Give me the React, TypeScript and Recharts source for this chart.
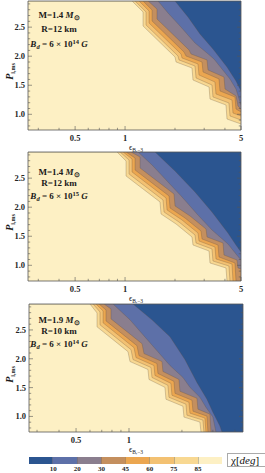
import React from 'react';
import { ComposedChart, Area, XAxis, YAxis, CartesianGrid } from 'recharts';

const SERIF = "'Liberation Serif', 'Times New Roman', serif";

// contour levels and band colours (0-10, 10-20, ... 85-90)
const LEVELS = [10, 20, 30, 45, 60, 75, 85];
const BAND_COLORS = ['#2b5590', '#5d70a8', '#8a7e8e', '#c48f5e', '#eba650', '#f3c172', '#f8d892', '#fdf0c4'];

const X_MAJOR_AB = [0.5, 1, 5];
const X_MAJOR_C = [0.5, 1];
const X_MINOR = [0.3, 0.4, 0.6, 0.7, 0.8, 0.9, 2, 3, 4];
const Y_MAJOR = [1.0, 1.5, 2.0, 2.5];
const Y_MINOR = [0.8, 0.9, 1.1, 1.2, 1.3, 1.4, 1.6, 1.7, 1.8, 1.9, 2.1, 2.2, 2.3, 2.4, 2.6, 2.7, 2.8, 2.9];
const Y_DOMAIN: [number, number] = [0.73, 2.95];

// panel A: M=1.4, R=12 km, Bd=6e14 G  -- boundary of each level [eps, P]
const A10 = [[0.26, 2.95], [2.001, 2.95], [2.396, 2.675], [2.83, 2.382], [3.389, 2.124], [4.116, 1.814], [4.664, 1.573], [5, 1.401]];
const A20 = [[0.26, 2.95], [1.58, 2.95], [1.816, 2.743], [2.145, 2.52], [2.64, 2.227], [3.119, 2.055], [3.436, 1.952], [3.84, 1.78], [4.291, 1.608], [4.664, 1.436], [5, 1.16]];
const A30 = [[0.26, 2.95], [1.376, 2.95], [1.558, 2.812], [1.558, 2.64], [2.43, 2.107], [2.498, 2.038], [3.119, 1.935], [3.162, 1.763], [3.948, 1.642], [4.004, 1.436], [4.664, 1.315], [4.794, 1.143], [5, 1.091]];
const A45 = [[0.26, 2.95], [1.284, 2.95], [1.455, 2.795], [1.455, 2.606], [2.267, 2.072], [2.331, 2.003], [2.91, 1.9], [2.951, 1.728], [3.684, 1.608], [3.736, 1.401], [4.598, 1.298], [4.664, 1.091], [5, 1.04]];
const A60 = [[0.26, 2.95], [1.214, 2.95], [1.395, 2.778], [1.395, 2.571], [2.175, 2.038], [2.205, 1.969], [2.753, 1.866], [2.791, 1.676], [3.484, 1.556], [3.533, 1.349], [4.412, 1.246], [4.473, 1.022], [5, 0.971]];
const A75 = [[0.26, 2.95], [1.149, 2.95], [1.338, 2.761], [1.338, 2.537], [2.086, 2.003], [2.115, 1.935], [2.64, 1.831], [2.679, 1.625], [3.342, 1.504], [3.389, 1.298], [4.23, 1.195], [4.291, 0.971], [5, 0.902]];
const A85 = [[0.26, 2.95], [1.102, 2.95], [1.284, 2.761], [1.284, 2.52], [2.001, 1.986], [2.03, 1.9], [2.533, 1.797], [2.568, 1.59], [3.21, 1.47], [3.251, 1.263], [4.06, 1.16], [4.116, 0.919], [5, 0.833]];

// panel B: M=1.4, R=12 km, Bd=6e15 G
const B10 = [[0.26, 2.95], [1.516, 2.95], [2.001, 2.623], [2.64, 2.262], [3.342, 1.917], [4.173, 1.556], [4.664, 1.349], [5, 1.229]];
const B20 = [[0.26, 2.95], [1.198, 2.95], [1.455, 2.726], [1.791, 2.451], [2.205, 2.176], [2.715, 1.883], [3.342, 1.608], [4.173, 1.367], [4.664, 1.195], [5, 1.091]];
const B30 = [[0.26, 2.95], [1.087, 2.95], [1.231, 2.864], [1.231, 2.675], [1.973, 2.227], [2.001, 2.021], [2.464, 1.849], [3.076, 1.625], [3.119, 1.487], [3.894, 1.384], [3.948, 1.177], [4.728, 1.091], [4.794, 0.954], [5, 0.937]];
const B45 = [[0.26, 2.95], [1.014, 2.95], [1.149, 2.847], [1.149, 2.64], [1.842, 2.193], [1.867, 1.986], [2.298, 1.814], [2.87, 1.59], [2.91, 1.453], [3.633, 1.349], [3.684, 1.143], [4.598, 1.04], [4.664, 0.73]];
const B60 = [[0.26, 2.95], [0.973, 2.95], [1.102, 2.83], [1.102, 2.606], [1.767, 2.158], [1.791, 1.952], [2.205, 1.78], [2.753, 1.556], [2.791, 1.418], [3.484, 1.315], [3.533, 1.109], [4.412, 1.022], [4.473, 0.73]];
const B75 = [[0.26, 2.95], [0.933, 2.95], [1.057, 2.812], [1.057, 2.571], [1.694, 2.124], [1.718, 1.917], [2.115, 1.745], [2.64, 1.522], [2.678, 1.384], [3.342, 1.281], [3.389, 1.074], [4.23, 0.988], [4.291, 0.73]];
const B85 = [[0.26, 2.95], [0.895, 2.95], [1.014, 2.795], [1.014, 2.537], [1.625, 2.09], [1.648, 1.883], [2.03, 1.711], [2.533, 1.487], [2.568, 1.349], [3.21, 1.246], [3.251, 1.04], [4.06, 0.954], [4.116, 0.73]];

// panel C: M=1.9, R=10 km, Bd=6e14 G
const C10 = [[0.27, 2.95], [1.054, 2.95], [1.351, 2.675], [1.71, 2.382], [2.08, 1.986], [2.434, 1.59], [2.775, 1.298], [3.001, 1.074], [3.289, 0.833], [3.377, 0.73]];
const C20 = [[0.27, 2.95], [0.811, 2.95], [1.013, 2.675], [1.316, 2.279], [1.71, 1.883], [2.027, 1.676], [2.222, 1.504], [2.532, 1.332], [2.738, 1.16], [3.001, 0.988], [3.121, 0.73]];
const C30 = [[0.27, 2.95], [0.721, 2.95], [0.79, 2.864], [0.79, 2.692], [1.186, 2.262], [1.217, 2.09], [1.54, 1.952], [1.56, 1.78], [1.923, 1.642], [1.949, 1.436], [2.434, 1.315], [2.466, 1.126], [2.886, 1.04], [2.924, 0.73]];
const C45 = [[0.27, 2.95], [0.675, 2.95], [0.74, 2.847], [0.74, 2.657], [1.11, 2.227], [1.14, 2.055], [1.442, 1.917], [1.461, 1.745], [1.802, 1.608], [1.826, 1.401], [2.28, 1.281], [2.311, 1.091], [2.775, 1.005], [2.811, 0.73]];
const C60 = [[0.27, 2.95], [0.649, 2.95], [0.712, 2.83], [0.712, 2.623], [1.068, 2.193], [1.096, 2.021], [1.387, 1.883], [1.405, 1.711], [1.732, 1.573], [1.755, 1.367], [2.192, 1.246], [2.222, 1.057], [2.703, 0.971], [2.738, 0.73]];
const C75 = [[0.27, 2.95], [0.6245, 2.95], [0.684, 2.812], [0.684, 2.589], [1.027, 2.158], [1.054, 1.986], [1.334, 1.849], [1.351, 1.676], [1.665, 1.539], [1.688, 1.332], [2.108, 1.212], [2.135, 1.022], [2.633, 0.936], [2.668, 0.73]];
const C85 = [[0.27, 2.95], [0.6, 2.95], [0.658, 2.795], [0.658, 2.554], [0.987, 2.124], [1.013, 1.952], [1.282, 1.814], [1.299, 1.642], [1.601, 1.504], [1.623, 1.298], [2.027, 1.177], [2.054, 0.988], [2.532, 0.902], [2.566, 0.73]];

const toRows = (pts: number[][]) => pts.map(([x, y]) => ({ x, y }));

const LINE = '#555';
const TXT = '#262626';

const makeTick = (side: 'b' | 't' | 'l' | 'r', majors: number[]) => (props: any) => {
  const { x, y, payload } = props;
  const v = payload.value;
  const major = majors.includes(v);
  const len = major ? 4 : 2.2;
  let line;
  if (side === 'b') line = <line x1={x} x2={x} y1={y} y2={y - len} stroke={LINE} strokeWidth={0.6} />;
  else if (side === 't') line = <line x1={x} x2={x} y1={y} y2={y + len} stroke={LINE} strokeWidth={0.6} />;
  else if (side === 'l') line = <line x1={x} x2={x + len} y1={y} y2={y} stroke={LINE} strokeWidth={0.6} />;
  else line = <line x1={x} x2={x - len} y1={y} y2={y} stroke={LINE} strokeWidth={0.6} />;
  let label = null;
  if (major && side === 'b') {
    label = <text x={x} y={y + 11} textAnchor="middle" fontSize={8.5} fontWeight="bold" fontFamily={SERIF} fill={TXT}>{v}</text>;
  } else if (major && side === 'l') {
    label = <text x={x - 3} y={y + 3} textAnchor="end" fontSize={8.5} fontWeight="bold" fontFamily={SERIF} fill={TXT}>{v.toFixed(1)}</text>;
  }
  return <g>{line}{label}</g>;
};

interface PanelProps {
  top: number;
  plotH: number;
  left: number;
  right: number;
  xDomain: [number, number];
  xMajor: number[];
  bounds: number[][][];
  mass: string;
  radius: string;
  exp: string;
  noteY: number[];
}

function Panel({ top, plotH, left, right, xDomain, xMajor, bounds, mass, radius, exp, noteY }: PanelProps) {
  const xTicks = [...xMajor, ...X_MINOR.filter((t) => t > xDomain[0] && t < xDomain[1])].sort((a, b) => a - b);
  const yTicks = [...Y_MAJOR, ...Y_MINOR].sort((a, b) => a - b);
  const H = plotH + 24;
  const noteStyle: React.CSSProperties = {
    position: 'absolute', left: 19, width: 80, textAlign: 'center', fontFamily: SERIF,
    fontWeight: 'bold', fontSize: 9, lineHeight: '10px', color: '#1a1a1a', whiteSpace: 'nowrap',
  };
  return (
    <div style={{ position: 'absolute', left: 0, top, width: 265, height: H }}>
      <ComposedChart width={265} height={H} margin={{ top: 0, right: right - 1, bottom: 0, left: 0 }}>
        <CartesianGrid xAxisId="b" yAxisId="l" fill={BAND_COLORS[0]} horizontal={false} vertical={false} />
        {bounds.map((pts, i) => (
          <Area
            key={LEVELS[i]}
            data={toRows(pts)}
            dataKey="y"
            xAxisId="b"
            yAxisId="l"
            type="linear"
            baseValue="dataMin"
            fill={BAND_COLORS[i + 1]}
            fillOpacity={1}
            stroke="#5e4c3a"
            strokeOpacity={0.45}
            strokeWidth={0.6}
            dot={false}
            activeDot={false}
            isAnimationActive={false}
          />
        ))}
        <XAxis
          xAxisId="b" dataKey="x" type="number" scale="log" domain={xDomain} allowDataOverflow
          ticks={xTicks} interval={0} height={23} tickSize={0} tickMargin={0}
          tick={makeTick('b', xMajor)} tickLine={false} axisLine={{ stroke: LINE, strokeWidth: 0.8 }}
        />
        <XAxis
          xAxisId="t" orientation="top" type="number" scale="log" domain={xDomain} allowDataOverflow
          ticks={xTicks} interval={0} height={1} tickSize={0} tickMargin={0}
          tick={makeTick('t', xMajor)} tickLine={false} axisLine={{ stroke: LINE, strokeWidth: 0.8 }}
        />
        <YAxis
          yAxisId="l" type="number" domain={Y_DOMAIN} allowDataOverflow ticks={yTicks} interval={0}
          width={left} tickSize={0} tickMargin={0} tick={makeTick('l', Y_MAJOR)} tickLine={false}
          axisLine={{ stroke: LINE, strokeWidth: 0.8 }}
        />
        <YAxis
          yAxisId="r" orientation="right" type="number" domain={Y_DOMAIN} allowDataOverflow ticks={yTicks} interval={0}
          width={1} tickSize={0} tickMargin={0} tick={makeTick('r', Y_MAJOR)} tickLine={false}
          axisLine={{ stroke: LINE, strokeWidth: 0.8 }}
        />
      </ComposedChart>
      <div style={{ ...noteStyle, top: noteY[0] - 5 }}>
        M={mass} <i>M</i><sub style={{ fontSize: 7, verticalAlign: '-2px' }}>⊙</sub>
      </div>
      <div style={{ ...noteStyle, top: noteY[1] - 5 }}>R={radius} km</div>
      <div style={{ ...noteStyle, top: noteY[2] - 5 }}>
        <i>B<sub style={{ fontSize: 6.5, verticalAlign: '-2px' }}>d</sub></i> = 6 × 10<sup style={{ fontSize: 6.5, verticalAlign: '3px' }}>{exp}</sup> <i>G</i>
      </div>
      <div
        style={{
          position: 'absolute', left: 11 - 20, top: 70 - 6, width: 40, textAlign: 'center', transform: 'rotate(-90deg)',
          fontFamily: SERIF, fontSize: 10, fontWeight: 'bold', lineHeight: '12px', color: '#1a1a1a',
        }}
      >
        <i>P</i><sub style={{ fontSize: 6, verticalAlign: '-2px' }}>i,ms</sub>
      </div>
      <div
        style={{
          position: 'absolute', left: 116, top: plotH + 14, width: 40, textAlign: 'center',
          fontFamily: SERIF, fontSize: 8, lineHeight: '9px', color: '#1a1a1a',
        }}
      >
        ϵ<sub style={{ fontSize: 5.5, verticalAlign: '-2px' }}>B,−3</sub>
      </div>
    </div>
  );
}

export default function App() {
  return (
    <div style={{ position: 'absolute', left: 0, top: 0, width: 265, height: 473, background: '#fff', overflow: 'hidden' }}>
      <Panel top={0} plotH={129} left={28} right={24} xDomain={[0.26, 5]} xMajor={X_MAJOR_AB}
        bounds={[A10, A20, A30, A45, A60, A75, A85]} mass="1.4" radius="12" exp="14" noteY={[15, 28.5, 42]} />
      <Panel top={151} plotH={129} left={28} right={24} xDomain={[0.26, 5]} xMajor={X_MAJOR_AB}
        bounds={[B10, B20, B30, B45, B60, B75, B85]} mass="1.4" radius="12" exp="15" noteY={[21, 32, 43]} />
      <Panel top={303} plotH={128} left={29} right={22} xDomain={[0.27, 4.45]} xMajor={X_MAJOR_C}
        bounds={[C10, C20, C30, C45, C60, C75, C85]} mass="1.9" radius="10" exp="14" noteY={[17, 28, 39]} />

      {/* colour bar legend */}
      <div style={{ position: 'absolute', left: 29, top: 457, width: 193, height: 7, display: 'flex' }}>
        {BAND_COLORS.map((c, i) => (
          <div key={i} style={{ flex: 1, background: c, borderLeft: i ? '0.5px solid rgba(90,90,90,0.35)' : 'none' }} />
        ))}
      </div>
      {LEVELS.map((l, i) => (
        <div
          key={l}
          style={{
            position: 'absolute', left: 29 + ((i + 1) * 193) / 8 - 10, top: 465, width: 20, textAlign: 'center',
            fontFamily: SERIF, fontWeight: 'bold', fontSize: 7, lineHeight: '8px', color: TXT,
          }}
        >
          {l}
        </div>
      ))}
      <div
        style={{
          position: 'absolute', left: 227, top: 453, width: 40, height: 14, boxSizing: 'border-box',
          border: '1px solid #aaa', fontFamily: SERIF, fontSize: 11, lineHeight: '12px', paddingLeft: 3, color: '#111',
        }}
      >
        χ[<i>deg</i>]
      </div>
    </div>
  );
}
